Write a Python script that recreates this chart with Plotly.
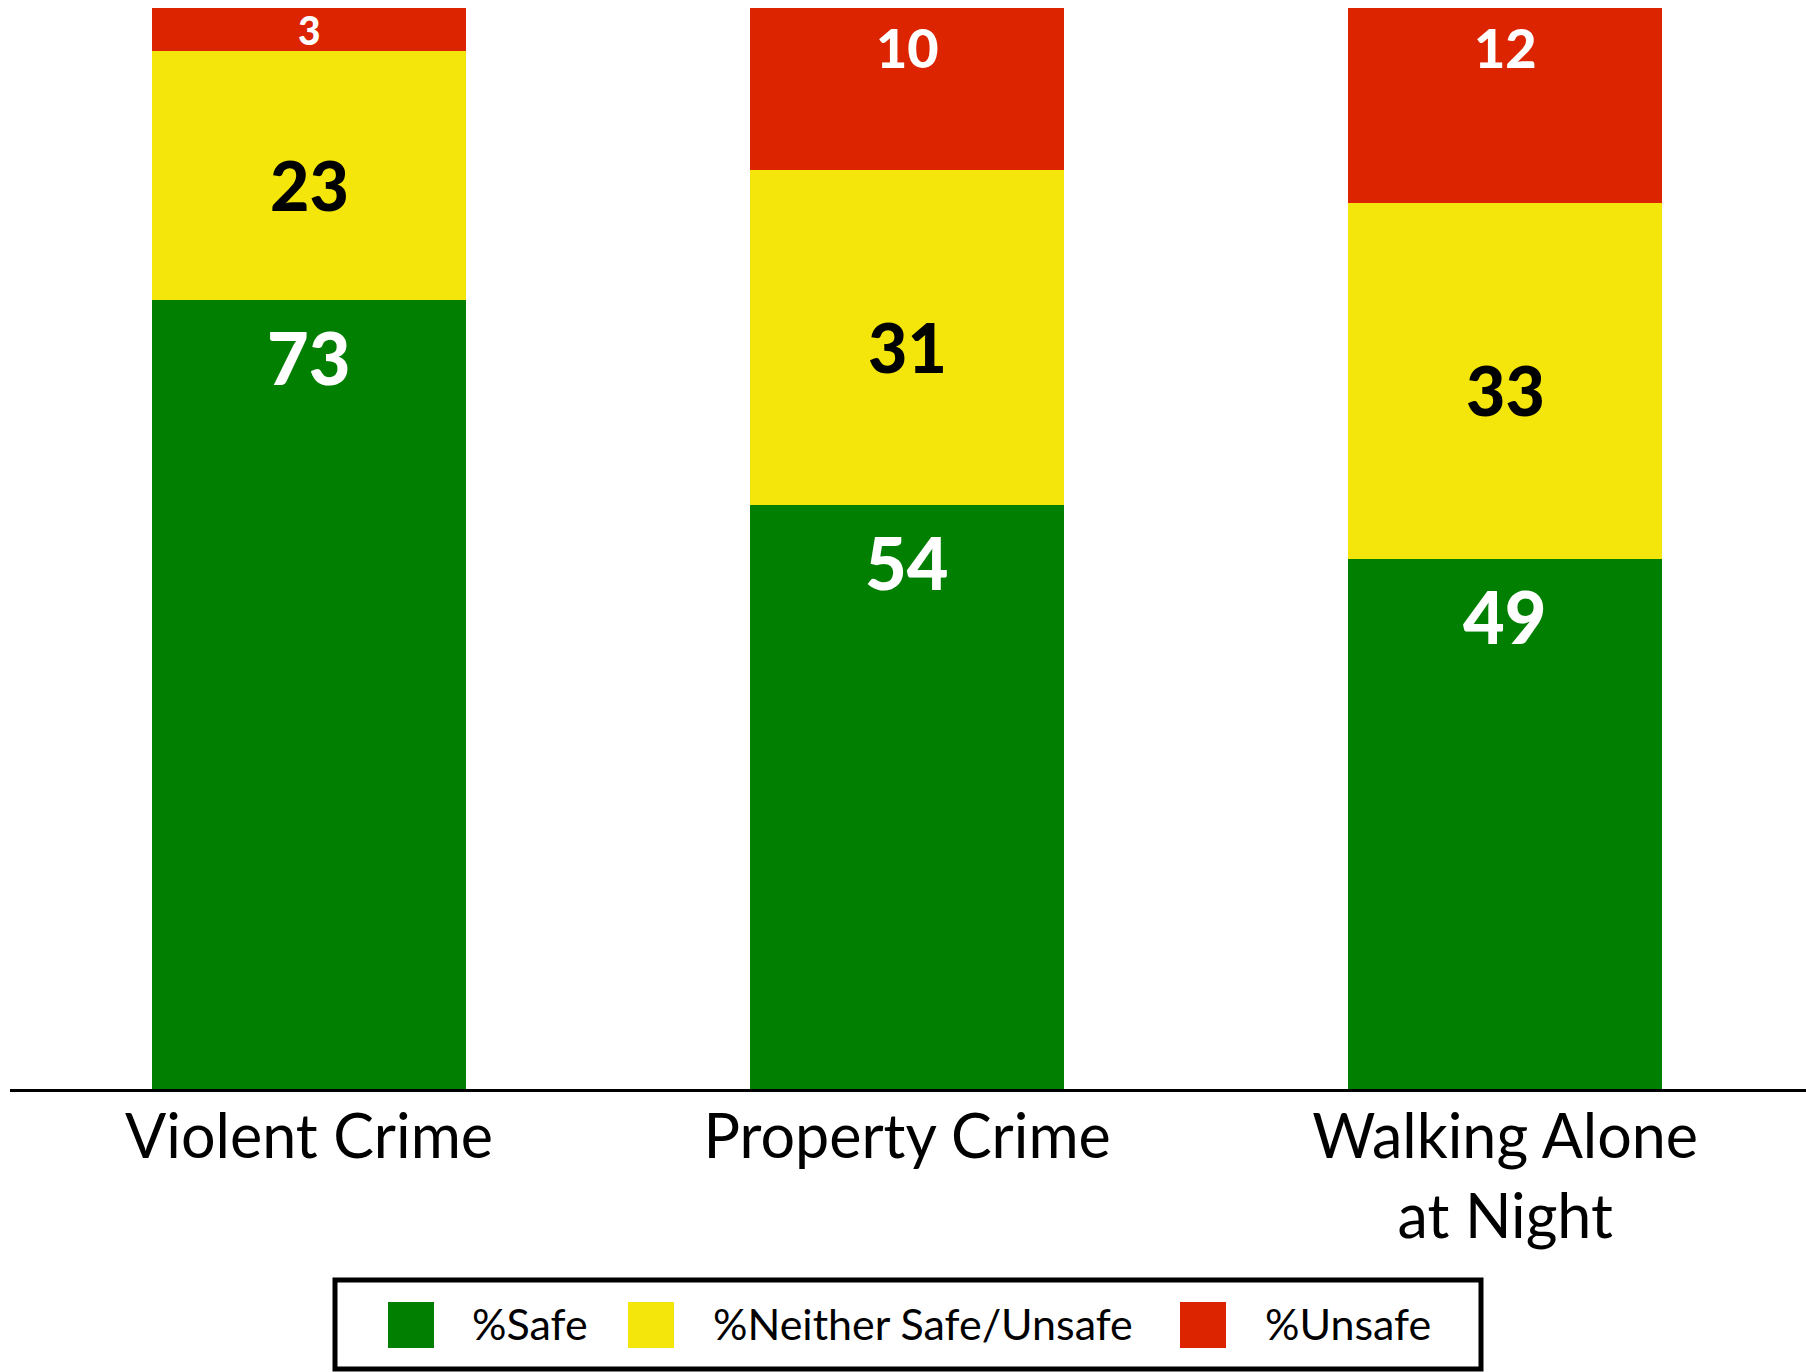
import plotly.graph_objects as go

# ---------------- data ----------------
categories = ["Violent Crime", "Property Crime", "Walking Alone<br>at Night"]
safe = [73, 54, 49]
neither = [23, 31, 33]
unsafe_bar = [4, 15, 18]          # drawn segment height (remainder to 100)
unsafe_label = [3, 10, 12]        # value printed on the segment
series_names = ["%Safe", "%Neither Safe/Unsafe", "%Unsafe"]
series_colors = ["#007F00", "#F4E60A", "#DC2400"]

# ---------------- geometry ----------------
W, H = 1806, 1372
# plot area in page pixels
PX0, PX1, PY0, PY1 = 10, 1806, 8, 1089
M_L, M_R, M_T, M_B = PX0, W - PX1, PY0, H - PY1
PW, PH = PX1 - PX0, PY1 - PY0
Y_MAX = 100


def px_x(x):   # page pixel -> paper
    return (x - PX0) / PW


def px_y(y):
    return (PY1 - y) / PH


NUM_FONT = "Lato"
TXT_FONT = "Lato"

fig = go.Figure()
for vals, name, col in zip([safe, neither, unsafe_bar], series_names, series_colors):
    fig.add_trace(go.Bar(x=categories, y=vals, name=name, marker=dict(color=col, line=dict(width=0)),
                         showlegend=False, hoverinfo="skip"))

ann = []
unit_px = PH / Y_MAX
for i, c in enumerate(categories):
    ann.append(dict(x=c, y=safe[i], xref="x", yref="y", text=str(safe[i]), showarrow=False,
                    yanchor="middle", yshift=-57,
                    font=dict(family=NUM_FONT, size=72, color="white", weight=900)))
    ann.append(dict(x=c, y=safe[i] + neither[i] / 2, xref="x", yref="y", text=str(neither[i]),
                    showarrow=False, yanchor="middle", yshift=-9,
                    font=dict(family=NUM_FONT, size=68, color="black", weight=900)))
    seg_px = unsafe_bar[i] * unit_px
    off = min(39, seg_px / 2)
    fs = min(54, seg_px * 0.9)
    ann.append(dict(x=c, y=safe[i] + neither[i] + unsafe_bar[i], xref="x", yref="y",
                    text=str(unsafe_label[i]), showarrow=False, yanchor="middle", yshift=-off,
                    font=dict(family=NUM_FONT, size=fs, color="white", weight=900)))

# ---------------- custom legend ----------------
shapes = []
box = (335, 1280, 1481, 1369)
shapes.append(dict(type="rect", xref="paper", yref="paper",
                   x0=px_x(box[0]), x1=px_x(box[2]), y0=px_y(box[3]), y1=px_y(box[1]),
                   line=dict(color="black", width=5), fillcolor="white", layer="above"))
sw_x = [388, 628, 1180]
txt_x = [470, 711, 1263]
sw_size = 46
cy = 1325
for sx, tx, name, col in zip(sw_x, txt_x, series_names, series_colors):
    shapes.append(dict(type="rect", xref="paper", yref="paper",
                       x0=px_x(sx), x1=px_x(sx + sw_size), y0=px_y(cy + sw_size / 2), y1=px_y(cy - sw_size / 2),
                       line=dict(width=0), fillcolor=col, layer="above"))
    ann.append(dict(x=px_x(tx), y=px_y(cy - 2), xref="paper", yref="paper", text=name, showarrow=False,
                    xanchor="left", yanchor="middle",
                    font=dict(family=TXT_FONT, size=43, color="black")))

fig.update_layout(
    barmode="stack",
    bargap=0.475,
    width=W, height=H,
    margin=dict(l=M_L, r=M_R, t=M_T, b=M_B, pad=0),
    plot_bgcolor="white", paper_bgcolor="white",
    showlegend=False,
    annotations=ann,
    shapes=shapes,
    xaxis=dict(range=[-0.5, 2.503], showline=True, linecolor="black", linewidth=3, ticks="",
               showgrid=False, zeroline=False, fixedrange=True,
               tickfont=dict(family=TXT_FONT, size=61, color="black"), ticklabelstandoff=-7),
    yaxis=dict(range=[0, Y_MAX], visible=False, showgrid=False, zeroline=False, fixedrange=True),
)

fig.write_html("out.html", config={"displayModeBar": False},
               post_script="document.body.style.margin='0';document.body.style.overflow='hidden';")
